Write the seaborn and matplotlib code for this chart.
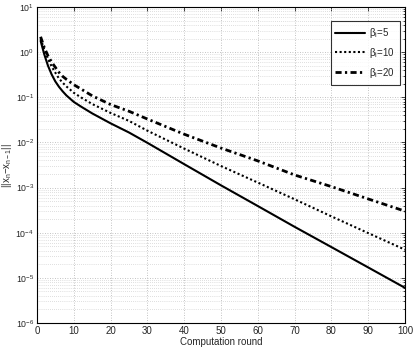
import numpy as np
import pandas as pd
import matplotlib
matplotlib.use("Agg")
import matplotlib.pyplot as plt
import seaborn as sns
from matplotlib.ticker import LogLocator

rounds = [1, 2, 3, 4, 5, 6, 7, 8, 10, 12, 15, 20, 25, 30, 40, 50, 60, 70, 80, 90, 100]
beta5 = [1.78, 0.89, 0.50, 0.32, 0.224, 0.17, 0.135, 0.11, 0.079, 0.062, 0.044,
         0.0265, 0.0166, 9.8e-3, 3.3e-3, 1.12e-3, 3.9e-4, 1.35e-4, 4.8e-5, 1.7e-5, 6.0e-6]
beta10 = [2.0, 1.12, 0.71, 0.48, 0.35, 0.26, 0.21, 0.174, 0.126, 0.099, 0.071,
          0.045, 0.030, 0.0182, 7.3e-3, 3.0e-3, 1.29e-3, 5.5e-4, 2.3e-4, 9.8e-5, 4.2e-5]
beta20 = [2.19, 1.26, 0.83, 0.60, 0.46, 0.355, 0.29, 0.25, 0.19, 0.152, 0.108,
          0.069, 0.049, 0.033, 0.0152, 7.5e-3, 3.9e-3, 1.9e-3, 1.05e-3, 5.6e-4, 3.0e-4]
labels = [r"$\beta_i$=5", r"$\beta_i$=10", r"$\beta_i$=20"]

sns.set_style("white")
plt.rcParams["font.family"] = ["Liberation Sans", "DejaVu Sans"]
plt.rcParams["mathtext.fontset"] = "custom"
plt.rcParams["mathtext.rm"] = "Liberation Sans"
plt.rcParams["mathtext.it"] = "Liberation Sans"
plt.rcParams["mathtext.bf"] = "Liberation Sans:bold"

fig = plt.figure(figsize=(4.15, 3.49), dpi=100)
ax = fig.add_axes([0.089, 0.0745, 0.887, 0.9055])

df = pd.DataFrame({"round": rounds, "b5": beta5, "b10": beta10, "b20": beta20})
sns.lineplot(data=df, x="round", y="b5", ax=ax, color="black", lw=1.5,
             linestyle="-", label=labels[0])
sns.lineplot(data=df, x="round", y="b10", ax=ax, color="black", lw=1.5,
             linestyle=(0, (1, 1.2)), label=labels[1])
sns.lineplot(data=df, x="round", y="b20", ax=ax, color="black", lw=2.0,
             linestyle=(0, (2.2, 1.2, 0.8, 1.2)), label=labels[2])

ax.set_yscale("log")
ax.set_xlim(0, 100)
ax.set_ylim(1e-6, 1e1)
ax.set_xticks(range(0, 101, 10))
ax.yaxis.set_major_locator(LogLocator(base=10, numticks=20))
ax.yaxis.set_minor_locator(LogLocator(base=10, subs=np.arange(2, 10), numticks=50))
ax.grid(True, which="major", color="#b0b0b0", linestyle=(0, (1, 2)), lw=0.6)
ax.grid(True, which="minor", axis="y", color="#c0c0c0", linestyle=(0, (1, 2)), lw=0.5)
ax.tick_params(axis="both", which="both", direction="in", labelsize=7,
               top=True, right=True, length=3, width=0.6)
ax.tick_params(axis="x", pad=2)
ax.tick_params(axis="y", labelsize=6.3, pad=2)
ax.tick_params(which="minor", length=1.5)
ax.xaxis.get_offset_text().set_visible(False)
ax.yaxis.get_offset_text().set_visible(False)
for s in ax.spines.values():
    s.set_color("black")
    s.set_linewidth(0.8)

ax.set_xlabel("Computation round", fontsize=7)
ax.xaxis.set_label_coords(0.5, -0.044)
ax.set_ylabel("||x$_n$\u2212x$_{n\u22121}$||", fontsize=7)
ax.yaxis.set_label_coords(-0.062, 0.5)

leg = ax.legend(loc="upper right", fontsize=7, frameon=True, fancybox=False,
                edgecolor="black", handlelength=3.0, borderpad=0.5,
                labelspacing=0.6, handletextpad=0.5, borderaxespad=0,
                bbox_to_anchor=(0.986, 0.955))
leg.get_frame().set_linewidth(0.8)

fig.savefig("out.png", dpi=100)
